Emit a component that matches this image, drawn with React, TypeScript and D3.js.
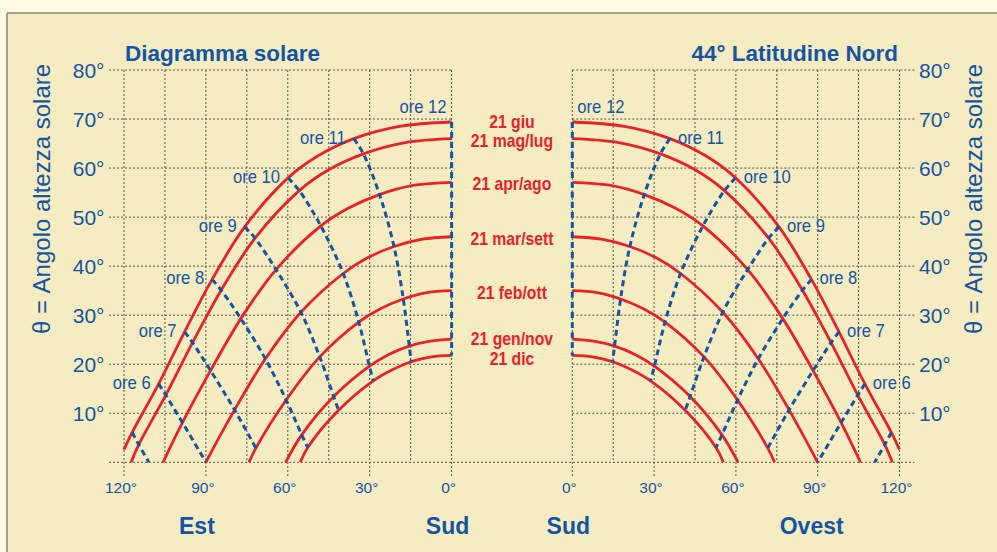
import React from "react";
import * as d3 from "d3";

const W = 997;
const H = 552;

// solar time of each point along a date curve (noon first)
const clock = ["12", "11.30", "11", "10.30", "10", "9", "8", "7", "6", "5"];

// [azimuth from south (deg), solar altitude (deg)]
const giu = [[0, 69.4], [19.1, 68.5], [35.8, 66.0], [49.2, 62.4], [59.9, 58.0], [75.8, 48.0], [87.7, 37.3], [97.8, 26.6], [107.3, 16.0], [117.0, 6.1]];
const magLug = [[0, 66.0], [17.0, 65.2], [32.3, 62.9], [45.2, 59.6], [55.8, 55.4], [72.0, 45.7], [84.4, 35.1], [94.9, 24.4], [104.7, 13.7], [114.6, 3.6]];
const aprAgo = [[0, 57.1], [13.6, 56.5], [26.4, 54.6], [37.9, 51.8], [47.9, 48.2], [64.3, 39.3], [77.2, 29.3], [88.3, 18.7], [98.6, 8.1], null];
const marSett = [[0, 46.0], [10.7, 45.5], [21.1, 44.0], [30.8, 41.7], [39.7, 38.5], [55.2, 30.6], [68.2, 21.1], [79.5, 10.7], [90, 0], null];
const febOtt = [[0, 35.0], [9.0, 34.6], [17.7, 33.3], [26.1, 31.3], [34.0, 28.6], [48.3, 21.5], [60.6, 12.7], [71.7, 2.9], null, null];
const genNov = [[0, 25.1], [7.8, 24.7], [15.5, 23.7], [23.0, 22.0], [30.1, 19.6], [43.2, 13.4], [54.9, 5.6], null, null, null];
const dic = [[0, 21.8], [7.4, 21.5], [14.8, 20.5], [21.9, 18.8], [28.7, 16.6], [41.4, 10.6], [52.7, 3.0], null, null, null];

const dateNames = ["21 giu", "21 mag/lug", "21 apr/ago", "21 mar/sett", "21 feb/ott", "21 gen/nov", "21 dic"];
const dateCurves = [giu, magLug, aprAgo, marSett, febOtt, genNov, dic];
// where each curve meets the horizon (or the 120° edge)
const curveEnds = [[120, 2.6], [117.4, 0], [105.7, 0], null, [74.2, 0], [60.8, 0], [55.4, 0]];

const hourLines = ["12", "11", "10", "9", "8", "7", "6", "5"];
const hourLabels = ["12", "11", "10", "9", "8", "7", "6"];
const ore5Tail = [110.9, 0];

const yTicks = [0, 10, 20, 30, 40, 50, 60, 70, 80];
const xTicks = [0, 30, 60, 90, 120];
const xGrid = [0, 15, 30, 45, 60, 75, 90, 105, 120];

const RED = "#E8222B";
const BLUE = "#1553A3";
const GRID = "#55524a";
const FONT = "'Liberation Sans', Arial, Helvetica, sans-serif";

const y = d3.scaleLinear().domain([0, 80]).range([462.3, 70]);
const xL = d3.scaleLinear().domain([120, 0]).range([124, 451.6]);
const xR = d3.scaleLinear().domain([0, 120]).range([572.3, 899.5]);

// condensed text, the original uses a narrow face
const Narrow = ({ x, y, anchor, size, weight, fill, k = 0.9, children }: any) => (
  <g transform={`translate(${x},${y}) scale(${k},1)`}>
    <text textAnchor={anchor} fontSize={size} fontWeight={weight} fill={fill} fontFamily={FONT}>
      {children}
    </text>
  </g>
);

function hourPoints(h: string) {
  const i = clock.indexOf(h);
  const pts = dateCurves.map((c) => c[i]).filter(Boolean) as number[][];
  if (h === "5") pts.push(ore5Tail);
  return pts;
}

const Panel = ({ side }: { side: "left" | "right" }) => {
  const x = side === "left" ? xL : xR;
  const gridX0 = side === "left" ? x(120) - 15 : x(0);
  const gridX1 = side === "left" ? x(0) : x(120) + 15;
  const line = d3
    .line<number[]>()
    .x((d) => x(d[0]))
    .y((d) => y(d[1]))
    .curve(d3.curveCatmullRom.alpha(0.5));

  return (
    <g>
      {/* grid */}
      {yTicks.filter((t) => t > 0).map((t) => (
        <line key={"h" + t} x1={gridX0} x2={gridX1} y1={y(t)} y2={y(t)} stroke={GRID} strokeWidth={1} strokeDasharray="2,2" />
      ))}
      {xGrid.map((t) => (
        <line key={"v" + t} x1={x(t)} x2={x(t)} y1={y(80)} y2={xTicks.includes(t) ? y(0) + 15 : y(0)} stroke={GRID} strokeWidth={1} strokeDasharray="2,2" />
      ))}
      {/* date curves */}
      {dateCurves.map((c, i) => {
        const pts = (c.filter(Boolean) as number[][]).slice();
        if (curveEnds[i]) pts.push(curveEnds[i] as number[]);
        return <path key={dateNames[i]} d={line(pts) || ""} fill="none" stroke={RED} strokeWidth={2.8} />;
      })}
      {/* hour lines */}
      {hourLines.map((h) => (
        <path key={"o" + h} d={line(hourPoints(h)) || ""} fill="none" stroke={BLUE} strokeWidth={3} strokeDasharray="6,4" />
      ))}
      {/* hour labels */}
      {hourLabels.map((h) => {
        const p = hourPoints(h)[0];
        const noon = h === "12";
        const dx = noon ? 5 : 8;
        const px = side === "left" ? x(p[0]) - dx : x(p[0]) + dx;
        const py = noon ? y(p[1]) - 9 : y(p[1]) + 5;
        return (
          <Narrow key={"l" + h} x={px} y={py} anchor={side === "left" ? "end" : "start"} size={18.5} fill={BLUE}>
            {"ore " + h}
          </Narrow>
        );
      })}
      {/* x ticks */}
      {xTicks.map((t) => (
        <text key={"t" + t} x={x(t) - 3} y={493} textAnchor="middle" fontSize={15.5} fill={BLUE} fontFamily={FONT}>
          {t + "°"}
        </text>
      ))}
      {/* y ticks */}
      {yTicks.filter((t) => t > 0).map((t) => (
        <text key={"y" + t} x={side === "left" ? 104.5 : 919} y={y(t) + 8} textAnchor={side === "left" ? "end" : "start"} fontSize={21} fill={BLUE} fontFamily={FONT}>
          {t + "°"}
        </text>
      ))}
    </g>
  );
};

export default function App() {
  const midX = (xL(0) + xR(0)) / 2;
  return (
    <svg width={W} height={H} style={{ position: "absolute", left: 0, top: 0, display: "block" }} fontFamily={FONT}>
      <rect x={0} y={0} width={W} height={H} fill="#FFFAE3" />
      <rect x={7} y={13} width={W - 7} height={H - 13} fill="#F5EDC1" />
      <line x1={7} x2={W} y1={13} y2={13} stroke="#8a877c" strokeWidth={1.5} />
      <line x1={7} x2={7} y1={13} y2={H} stroke="#8a877c" strokeWidth={1.5} />

      {/* horizon across both panels */}
      <line x1={xL(120) - 15} x2={xR(120) + 15} y1={y(0)} y2={y(0)} stroke={GRID} strokeWidth={1} strokeDasharray="2,2" />

      <Panel side="left" />
      <Panel side="right" />

      {/* date labels */}
      {dateNames.map((n, i) => {
        const shift = i === 0 ? -1.5 : i === 5 ? -2 : i === 6 ? 2 : 0;
        return (
          <Narrow key={n} x={midX} y={y(dateCurves[i][0]![1]) + 8 + shift} anchor="middle" size={17.5} weight="bold" fill={RED} k={0.9}>
            {n}
          </Narrow>
        );
      })}

      {/* titles */}
      <text x={125} y={61} fontSize={22.5} fontWeight="bold" fill={BLUE}>Diagramma solare</text>
      <text x={898} y={61} fontSize={22.5} fontWeight="bold" fill={BLUE} textAnchor="end">44° Latitudine Nord</text>

      <text transform={`translate(50,199) rotate(-90)`} textAnchor="middle" fontSize={24} fill={BLUE}>θ = Angolo altezza solare</text>
      <text transform={`translate(982,199) rotate(-90)`} textAnchor="middle" fontSize={24} fill={BLUE}>θ = Angolo altezza solare</text>

      {/* direction names */}
      <text x={xL(90) - 9} y={534} textAnchor="middle" fontSize={23} fontWeight="bold" fill={BLUE}>Est</text>
      <text x={xL(0) - 4} y={534} textAnchor="middle" fontSize={23} fontWeight="bold" fill={BLUE}>Sud</text>
      <text x={xR(0) - 4} y={534} textAnchor="middle" fontSize={23} fontWeight="bold" fill={BLUE}>Sud</text>
      <text x={xR(90) - 6} y={534} textAnchor="middle" fontSize={23} fontWeight="bold" fill={BLUE}>Ovest</text>
    </svg>
  );
}
